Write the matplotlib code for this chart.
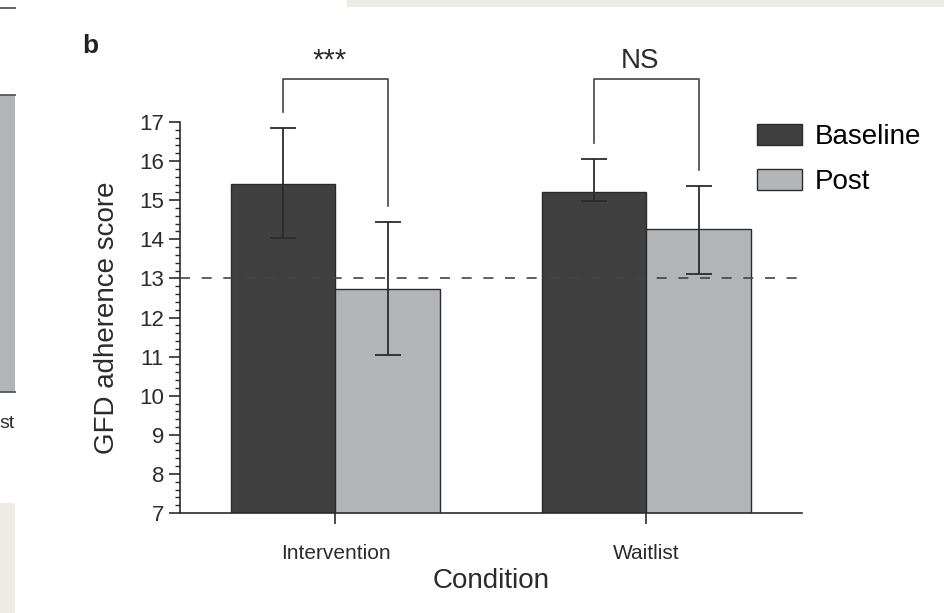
#!/usr/bin/env python3

import matplotlib
matplotlib.use('Agg')
import matplotlib.pyplot as plt
from matplotlib.patches import Rectangle
from matplotlib.lines import Line2D
from matplotlib.ticker import MultipleLocator
import numpy as np

# ======================================================================
# Data.
# ======================================================================

conditions = ['Intervention', 'Waitlist']
series = ['Baseline', 'Post']
baseline = [15.42, 15.21]
post = [12.73, 14.26]
# asymmetric error bars
baseline_lo = [1.39, 0.22]
baseline_hi = [1.43, 0.85]
post_lo = [1.70, 1.15]
post_hi = [1.72, 1.11]
signif = ['***', 'NS']
cutoff = 13.

dark = '#404040'
light = '#b3b4b8'
ink = '#2b2b2b'

plt.rcParams['font.family'] = ['Liberation Sans', 'DejaVu Sans']

W, H = 945, 613
fig = plt.figure(figsize=(W/100., H/100.), dpi=100)

def px(x, y):
    # figure pixel (from top-left) -> figure fraction
    return x/W, 1. - y/H

# ======================================================================
# Bits of the neighbouring panel / page that show in the crop.
# ======================================================================

bg = '#eeebe4'
fig.add_artist(Rectangle(px(347, 7), (W-347)/W, 7/H, transform=fig.transFigure,
                         color=bg, lw=0))
fig.add_artist(Rectangle(px(0, 613), 15/W, 110/H, transform=fig.transFigure,
                         color=bg, lw=0))
fig.add_artist(Rectangle(px(0, 392), 15/W, 297/H, transform=fig.transFigure,
                         facecolor=light, edgecolor='none'))
for yy in (8, 95, 392):
    x0, y0 = px(0, yy)
    x1, _ = px(15, yy)
    fig.add_artist(Line2D([x0, x1], [y0, y0], transform=fig.transFigure,
                          color='#555555', lw=1.3))
fig.text(*px(-1, 423), 'st', fontsize=14, color=ink, ha='left', va='center')

# ======================================================================
# Bar chart.
# ======================================================================

l, b = px(180, 513)
r, t = px(802, 122)
ax = fig.add_axes([l, b, r-l, t-b])

x = np.arange(len(conditions))
w = 0.335
ekw = dict(ecolor=ink, elinewidth=1.3, capsize=9.5, capthick=1.3)
ax.bar(x-w/2, baseline, w, color=dark, edgecolor=ink, lw=1.,
       label=series[0], zorder=2)
ax.bar(x+w/2, post, w, color=light, edgecolor=ink, lw=1.,
       label=series[1], zorder=2)
ax.errorbar(x-w/2, baseline, yerr=[baseline_lo, baseline_hi], fmt='none',
            zorder=3, **ekw)
ax.errorbar(x+w/2, post, yerr=[post_lo, post_hi], fmt='none',
            zorder=3, **ekw)

ax.axhline(cutoff, xmax=0.995, color='#444444', lw=1.2, dashes=(6, 7),
           zorder=4)

# significance brackets
top = 18.1
for i in range(len(conditions)):
    yb = baseline[i] + baseline_hi[i] + 0.4
    yp = post[i] + post_hi[i] + 0.4
    ax.plot([i-w/2, i-w/2, i+w/2, i+w/2], [yb, top, top, yp],
            color='#444444', lw=1.2, clip_on=False)
    if signif[i] == '***':
        ax.text(i-0.02, top+0.12, signif[i], fontsize=21, color=ink,
                ha='center', va='bottom')
    else:
        ax.text(i-0.02, top+0.12, signif[i], fontsize=20, color=ink,
                ha='center', va='bottom')

ax.set_xlim(-.5, 1.5)
ax.set_ylim(7, 17)
ax.set_xticks(x)
ax.set_xticklabels(conditions, fontsize=15)
ax.set_yticks(np.arange(7, 18))
ax.yaxis.set_minor_locator(MultipleLocator(0.2))
ax.tick_params(axis='both', colors=ink, width=1.2, length=8,
               direction='out')
ax.tick_params(axis='y', labelsize=16)
ax.tick_params(axis='y', which='minor', length=3.5, width=1., color=ink)
ax.tick_params(axis='x', pad=14)
for s in ('top', 'right'):
    ax.spines[s].set_visible(False)
for s in ('left', 'bottom'):
    ax.spines[s].set_color(ink)
    ax.spines[s].set_linewidth(1.2)

ax.set_xlabel('Condition', fontsize=20, color=ink, labelpad=4)
ax.set_ylabel('GFD adherence score', fontsize=20, color=ink, labelpad=14)

ax.legend(loc='upper left', bbox_to_anchor=px(757, 124),
          bbox_transform=fig.transFigure, frameon=False, fontsize=20,
          handlelength=1.62, handleheight=0.8, handletextpad=0.45,
          labelspacing=0.68, borderpad=0, borderaxespad=0)

fig.text(*px(82, 46), 'b', fontsize=19, fontweight='bold', color='#222222',
         ha='left', va='center')

fig.savefig('out.png', dpi=100)
plt.close()
